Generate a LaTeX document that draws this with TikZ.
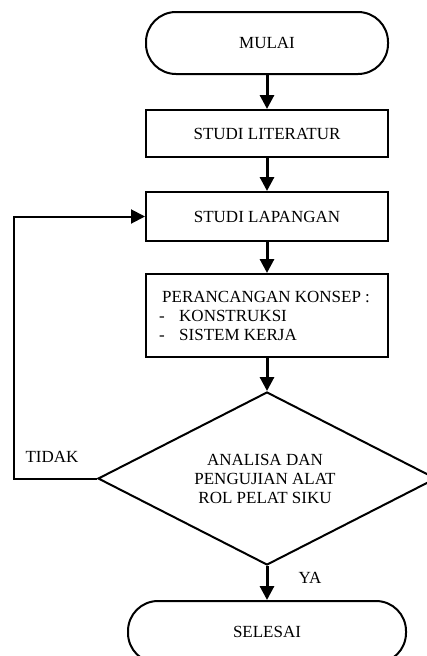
\documentclass[tikz,border=0pt]{standalone}
\usepackage{fontspec}
\setmainfont{Liberation Serif}
\usetikzlibrary{shapes.geometric,arrows.meta}
\begin{document}
\begin{tikzpicture}[x=1pt,y=-1pt,
  every node/.style={font=\fontsize{17}{19}\selectfont},
  procbox/.style={draw,line width=2pt,minimum width=242pt,inner sep=0pt,align=center},
  termbox/.style={draw,line width=2pt,rounded corners=30pt,minimum height=62pt,inner sep=0pt},
  decbox/.style={draw,diamond,line width=2pt,minimum width=338pt,minimum height=173pt,inner sep=0pt,align=center},
  flow/.style={line width=3pt,-{Triangle[length=14pt,width=14pt]}},
  lbl/.style={inner sep=0pt}]
\useasboundingbox (0,0) rectangle (427,656);
\node[termbox,minimum width=242pt] (mulai) at (267,43) {MULAI};
\node[procbox,minimum height=47pt] (lit) at (267,133.5) {STUDI LITERATUR};
\node[procbox,minimum height=49pt] (lap) at (267,216.5) {STUDI LAPANGAN};
\node[procbox,minimum height=83pt] (ranc) at (267,315.5) {};
\node[lbl,anchor=base west] (r1) at (162,302) {PERANCANGAN KONSEP :};
\node[lbl,anchor=base west] (r2) at (159,321) {-};
\node[lbl,anchor=base west] (r3) at (179,321) {KONSTRUKSI};
\node[lbl,anchor=base west] (r4) at (159,340) {-};
\node[lbl,anchor=base west] (r5) at (179,340) {SISTEM KERJA};
\node[decbox] (dec) at (267,478.5) {};
\node[lbl,anchor=base] (d1) at (265,465) {ANALISA DAN};
\node[lbl,anchor=base] (d2) at (265,484) {PENGUJIAN ALAT};
\node[lbl,anchor=base] (d3) at (265,503) {ROL PELAT SIKU};
\node[termbox,minimum width=278pt] (sel) at (267,632) {SELESAI};
\node[lbl,anchor=base] (tidak) at (52,462) {TIDAK};
\node[lbl,anchor=base] (ya) at (310,583) {YA};
\coordinate (c1) at (14,478.5);
\coordinate (c2) at (14,216.5);
\draw[flow] (mulai) -- (lit);
\draw[flow] (lit) -- (lap);
\draw[flow] (lap) -- (ranc);
\draw[flow] (ranc) -- (dec);
\draw[flow] (dec) -- (sel);
\draw[line width=2pt,-{Triangle[length=14pt,width=14pt]}] (dec.west) -- (c1) -- (c2) -- (lap.west);
\end{tikzpicture}
\end{document}
